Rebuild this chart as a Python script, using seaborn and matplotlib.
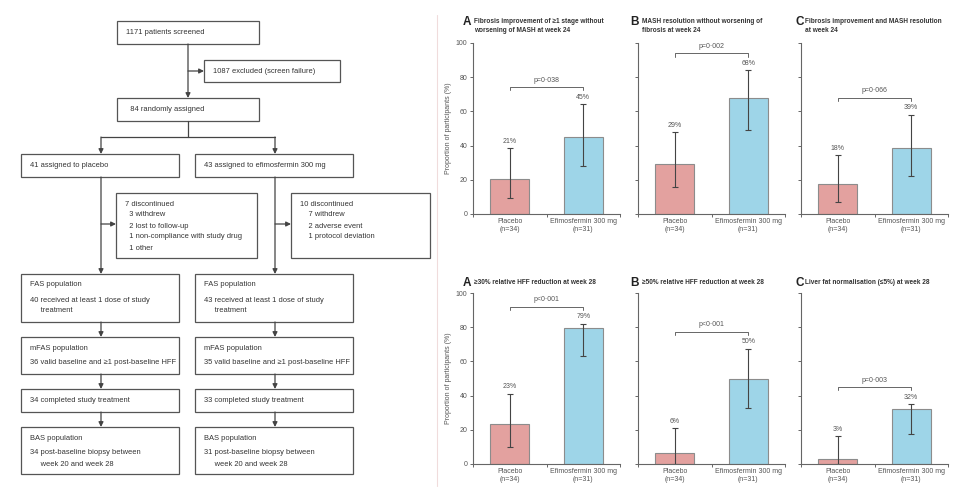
import matplotlib
matplotlib.use('Agg')
import matplotlib.pyplot as plt
import seaborn as sns
import pandas as pd

sns.set_theme(style='white')
plt.rcParams['font.family'] = ['Liberation Sans', 'DejaVu Sans']

# bar chart data
groups = ["Placebo\n(n=34)", "Efimosfermin 300 mg\n(n=31)"]
panel_letters = ["A", "B", "C", "A", "B", "C"]
panel_titles = [
    "Fibrosis improvement of \u22651 stage without\nworsening of MASH at week 24",
    "MASH resolution without worsening of\nfibrosis at week 24",
    "Fibrosis improvement and MASH resolution\nat week 24",
    "\u226530% relative HFF reduction at week 28",
    "\u226550% relative HFF reduction at week 28",
    "Liver fat normalisation (\u22645%) at week 28",
]
pct = [[20.6, 45.2], [29.4, 67.7], [17.6, 38.7], [23.2, 79.4], [6.5, 50.0], [3.2, 32.3]]
ci_low = [[9.2, 28.0], [15.8, 49.0], [7.0, 22.0], [9.7, 63.0], [0.0, 32.6], [0.0, 17.5]]
ci_high = [[38.4, 64.3], [47.8, 84.0], [34.3, 58.0], [41.1, 82.0], [20.9, 67.4], [16.2, 35.0]]
pct_labels = [["21%", "45%"], ["29%", "68%"], ["18%", "39%"], ["23%", "79%"], ["6%", "50%"], ["3%", "32%"]]
p_values = ["p=0\u00b7038", "p=0\u00b7002", "p=0\u00b7066", "p<0\u00b7001", "p<0\u00b7001", "p=0\u00b7003"]

# flowchart boxes: (x0, y0, x1, y1) in pixels, lines of text
L, R = (21, 179), (195, 353)
boxes = [
    ((117, 21, 259, 44), ["1171 patients screened"]),
    ((204, 60, 340, 82), ["1087 excluded (screen failure)"]),
    ((117, 98, 259, 121), ["  84 randomly assigned"]),
    ((L[0], 154, L[1], 177), ["41 assigned to placebo"]),
    ((R[0], 154, R[1], 177), ["43 assigned to efimosfermin 300 mg"]),
    ((116, 193, 257, 258), ["7 discontinued", "  3 withdrew", "  2 lost to follow-up",
                            "  1 non-compliance with study drug", "  1 other"]),
    ((291, 193, 430, 258), ["10 discontinued", "    7 withdrew", "    2 adverse event",
                            "    1 protocol deviation"]),
    ((L[0], 274, L[1], 322), ["FAS population", "40 received at least 1 dose of study", "     treatment"]),
    ((R[0], 274, R[1], 322), ["FAS population", "43 received at least 1 dose of study", "     treatment"]),
    ((L[0], 337, L[1], 374), ["mFAS population", "36 valid baseline and \u22651 post-baseline HFF"]),
    ((R[0], 337, R[1], 374), ["mFAS population", "35 valid baseline and \u22651 post-baseline HFF"]),
    ((L[0], 389, L[1], 412), ["34 completed study treatment"]),
    ((R[0], 389, R[1], 412), ["33 completed study treatment"]),
    ((L[0], 427, L[1], 474), ["BAS population", "34 post-baseline biopsy between", "     week 20 and week 28"]),
    ((R[0], 427, R[1], 474), ["BAS population", "31 post-baseline biopsy between", "     week 20 and week 28"]),
]

fig = plt.figure(figsize=(9.6, 5.01), dpi=100)
W, H = 960, 501

# ---- flowchart ----
fc = fig.add_axes([0, 0, 1, 1])
fc.set_xlim(0, W)
fc.set_ylim(H, 0)
fc.axis('off')
fc.patch.set_alpha(0)
edge = '#555555'
txt = '#333333'
fs = 5.4
for (x0, y0, x1, y1), lines in boxes:
    fc.add_patch(plt.Rectangle((x0, y0), x1 - x0, y1 - y0, fill=False, ec=edge, lw=0.9))
    if len(lines) == 1:
        fc.text(x0 + 9, (y0 + y1) / 2, lines[0], fontsize=fs, color=txt, va='center')
    else:
        yy = y0 + 11
        for i, s in enumerate(lines):
            fc.text(x0 + 9, yy, s, fontsize=fs, color=txt, va='center')
            if len(lines) >= 4:
                yy += 11
            else:
                yy += 15 if i == 0 else 11

def arrow(x0, y0, x1, y1):
    fc.annotate('', xy=(x1, y1), xytext=(x0, y0),
                arrowprops=dict(arrowstyle='-|>', color='#444444', lw=0.9,
                                mutation_scale=7, shrinkA=0, shrinkB=0))

arrow(188, 44, 188, 98)
arrow(188, 71, 204, 71)
fc.plot([188, 188], [121, 137], color='#444444', lw=0.9)
fc.plot([101, 275], [137, 137], color='#444444', lw=0.9)
for cx, side_x in [(101, 116), (275, 291)]:
    arrow(cx, 137, cx, 154)
    arrow(cx, 177, cx, 274)
    arrow(cx, 224, side_x, 224)
    arrow(cx, 322, cx, 337)
    arrow(cx, 374, cx, 389)
    arrow(cx, 412, cx, 427)

# divider
fc.plot([437, 437], [15, 486], color='#f0dcdc', lw=0.8)

# ---- bar charts ----
colors = ['#E3A19F', '#9ED5E8']
lefts = [473, 638, 801]
tops = [43, 293]
aw, ah = 147, 171
letter_x = [463, 630, 796]
title_x = [474, 642, 805]
title_y = [22, 283]
gray = '#555555'
cfs = 5.0

for k in range(6):
    row, col = divmod(k, 3)
    ax = fig.add_axes([lefts[col] / W, (H - tops[row] - ah) / H, aw / W, ah / H])
    df = pd.DataFrame({'group': groups, 'pct': pct[k]})
    sns.barplot(data=df, x='group', y='pct', hue='group', palette=colors, legend=False,
                saturation=1, width=0.53, edgecolor='#8c8c8c', linewidth=0.8, ax=ax)
    lo = [p - l for p, l in zip(pct[k], ci_low[k])]
    hi = [h - p for p, h in zip(pct[k], ci_high[k])]
    ax.errorbar([0, 1], pct[k], yerr=[lo, hi], fmt='none', ecolor='#444444',
                elinewidth=0.8, capsize=2, capthick=0.8)
    for i in range(2):
        ax.text(i, ci_high[k][i] + 2, pct_labels[k][i], ha='center', va='bottom',
                fontsize=cfs, color=gray)
    yb = max(ci_high[k]) + 10
    ax.plot([0, 0, 1, 1], [yb - 2, yb, yb, yb - 2], color='#666666', lw=0.7)
    ax.text(0.5, yb + 2, p_values[k], ha='center', va='bottom', fontsize=cfs, color=gray)

    ax.set_xlim(-0.5, 1.5)
    ax.set_ylim(0, 100)
    ax.set_yticks([0, 20, 40, 60, 80, 100])
    ax.set_xticks([0, 1])
    ax.set_xticklabels(groups, fontsize=cfs, color=gray)
    ax.set_xticks([-0.5, 0.5, 1.5], minor=True)
    ax.tick_params(axis='x', which='major', length=0, pad=3)
    ax.tick_params(axis='x', which='minor', length=2.5, width=0.7, color='#666666', direction='out', bottom=True)
    ax.tick_params(axis='y', length=2.5, width=0.7, color='#666666', direction='out', left=True,
                   labelsize=cfs, labelcolor=gray, pad=1.5)
    if col == 0:
        ax.set_ylabel('Proportion of participants (%)', fontsize=cfs, color=gray, labelpad=3)
    else:
        ax.set_yticklabels([])
        ax.set_ylabel('')
    ax.set_xlabel('')
    sns.despine(ax=ax)
    for s in ['left', 'bottom']:
        ax.spines[s].set_color('#666666')
        ax.spines[s].set_linewidth(0.8)
    ax.patch.set_alpha(0)

    fig.text(letter_x[col] / W, 1 - title_y[row] / H, panel_letters[k], fontsize=8.5,
             fontweight='bold', color='#222222', va='center')
    fig.text(title_x[col] / W, 1 - (title_y[row] - 4) / H, panel_titles[k], fontsize=4.7,
             fontweight='bold', color='#333333', va='top', linespacing=1.45)

fig.savefig('out.png', dpi=100)
